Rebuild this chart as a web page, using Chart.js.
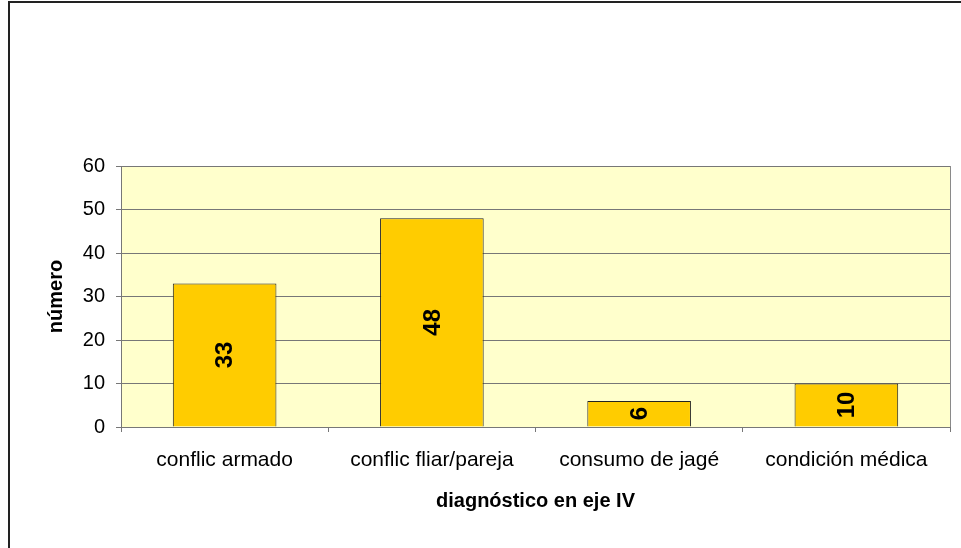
<!DOCTYPE html>
<html lang="es">
<head>
    <meta charset="UTF-8">
    <title>diagnóstico en eje IV</title>
    <script src="https://cdn.jsdelivr.net/npm/chart.js"></script>
    <style>
        html, body { margin: 0; padding: 0; background: #fff; overflow: hidden; }
        .wrap { position: relative; width: 961px; height: 548px; }
        .frame {
            position: absolute; left: 8px; top: 1px; width: 1000px; height: 600px;
            border: 2px solid #222; pointer-events: none;
        }
    </style>
</head>
<body>
<div class="wrap">
    <canvas id="chart" width="961" height="548"></canvas>
    <div class="frame"></div>
</div>
<script>
    // datos
    const categorias = ['conflic armado', 'conflic fliar/pareja', 'consumo de jagé', 'condición médica'];
    const valores = [33, 48, 6, 10];
    const ticksY = [0, 10, 20, 30, 40, 50, 60];

    const FONT = "Arial, 'Liberation Sans', sans-serif";

    // fondo amarillo del área de trazado
    const fondoPlot = {
        id: 'fondoPlot',
        beforeDraw(chart) {
            const { ctx, chartArea: a } = chart;
            ctx.save();
            ctx.fillStyle = '#FFFFCC';
            ctx.fillRect(a.left, a.top, a.right - a.left, a.bottom - a.top);
            ctx.strokeStyle = '#8a8a8a';
            ctx.lineWidth = 1;
            ctx.beginPath();
            ctx.moveTo(a.right + 0.5, a.top);
            ctx.lineTo(a.right + 0.5, a.bottom);
            ctx.stroke();
            ctx.restore();
        }
    };

    // etiquetas de valor giradas dentro de las barras
    const etiquetas = {
        id: 'etiquetas',
        afterDatasetsDraw(chart) {
            const { ctx } = chart;
            const meta = chart.getDatasetMeta(0);
            ctx.save();
            ctx.font = 'bold 24px ' + FONT;
            ctx.fillStyle = '#000';
            ctx.textAlign = 'center';
            ctx.textBaseline = 'middle';
            meta.data.forEach((bar, i) => {
                const y = (bar.y + bar.base) / 2;
                ctx.save();
                ctx.translate(bar.x, y);
                ctx.rotate(-Math.PI / 2);
                ctx.fillText(String(valores[i]), 0, 1);
                ctx.restore();
            });
            ctx.restore();
        }
    };

    new Chart(document.getElementById('chart'), {
        type: 'bar',
        data: {
            labels: categorias,
            datasets: [{
                data: valores,
                backgroundColor: '#FFCC00',
                borderColor: '#222',
                borderWidth: 1,
                barPercentage: 0.5,
                categoryPercentage: 1.0
            }]
        },
        options: {
            responsive: false,
            animation: false,
            events: [],
            layout: { padding: { left: 0, right: 11, top: 166, bottom: 0 } },
            plugins: { legend: { display: false }, tooltip: { enabled: false } },
            scales: {
                x: {
                    grid: {
                        offset: true,
                        drawOnChartArea: false,
                        color: '#777',
                        tickLength: 5
                    },
                    border: { display: true, color: '#777' },
                    ticks: {
                        color: '#000',
                        font: { family: FONT, size: 21 },
                        padding: 16,
                        maxRotation: 0,
                        autoSkip: false
                    },
                    title: {
                        display: true,
                        text: 'diagnóstico en eje IV',
                        color: '#000',
                        font: { family: FONT, size: 20, weight: 'bold' },
                        padding: { top: 0, bottom: 35 }
                    },
                    afterFit(scale) { scale.height = 548 - 427; }
                },
                y: {
                    min: 0,
                    max: 60,
                    afterBuildTicks(scale) { scale.ticks = ticksY.map(v => ({ value: v })); },
                    grid: { color: '#777', tickLength: 5 },
                    border: { display: true, color: '#777' },
                    ticks: {
                        color: '#000',
                        font: { family: FONT, size: 20 },
                        padding: 11
                    },
                    title: {
                        display: true,
                        text: 'número',
                        color: '#000',
                        font: { family: FONT, size: 20, weight: 'bold' },
                        padding: { top: 44, bottom: 0 }
                    },
                    afterFit(scale) { scale.width = 121; }
                }
            }
        },
        plugins: [fondoPlot, etiquetas]
    });
</script>
</body>
</html>
